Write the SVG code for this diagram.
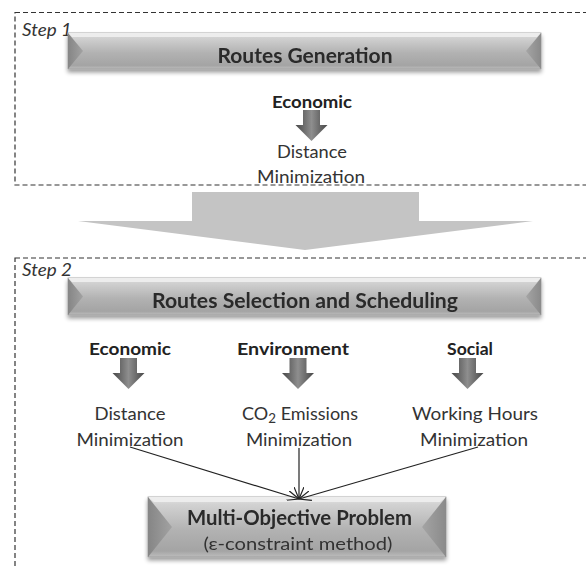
<svg xmlns="http://www.w3.org/2000/svg" width="586" height="569" viewBox="0 0 586 569">
<style>
  .frame{fill:none;stroke:#333;stroke-width:1.2;stroke-dasharray:5 3}
  .step{font-family:Lato,"Liberation Sans",Arial,sans-serif;font-style:italic;font-size:16.5px;fill:#333}
  .title{font-family:Lato,"Liberation Sans",Arial,sans-serif;font-weight:bold;font-size:20.5px;fill:#2a2a2a;text-anchor:middle}
  .lab{font-family:Lato,"Liberation Sans",Arial,sans-serif;font-weight:bold;font-size:17px;fill:#222;text-anchor:middle}
  .val{font-family:Lato,"Liberation Sans",Arial,sans-serif;font-size:17.5px;fill:#333;text-anchor:middle}
  .conn{fill:none;stroke:#222;stroke-width:1.2}
</style>
<defs>
  <linearGradient id="body" x1="0" y1="0" x2="0" y2="1">
    <stop offset="0" stop-color="#e6e6e6"/>
    <stop offset="0.12" stop-color="#d2d2d2"/>
    <stop offset="0.55" stop-color="#b2b2b2"/>
    <stop offset="0.9" stop-color="#a4a4a4"/>
    <stop offset="1" stop-color="#bdbdbd"/>
  </linearGradient>
  <linearGradient id="sideL" x1="0" y1="0" x2="1" y2="0">
    <stop offset="0" stop-color="#858585"/>
    <stop offset="1" stop-color="#a2a2a2"/>
  </linearGradient>
  <linearGradient id="sideR" x1="0" y1="0" x2="1" y2="0">
    <stop offset="0" stop-color="#a4a4a4"/>
    <stop offset="1" stop-color="#8a8a8a"/>
  </linearGradient>
  <linearGradient id="arrowG" x1="0" y1="0" x2="1" y2="0">
    <stop offset="0" stop-color="#474747"/>
    <stop offset="0.5" stop-color="#8e8e8e"/>
    <stop offset="1" stop-color="#474747"/>
  </linearGradient>
  <filter id="shadow" x="-5%" y="-20%" width="110%" height="150%">
    <feGaussianBlur in="SourceAlpha" stdDeviation="2"/>
    <feOffset dy="3" result="b"/>
    <feComponentTransfer><feFuncA type="linear" slope="0.4"/></feComponentTransfer>
    <feMerge><feMergeNode/><feMergeNode in="SourceGraphic"/></feMerge>
  </filter>
  <path id="down" d="M-8.5,0 H8.5 V15 H16 L0,31 L-16,15 H-8.5 Z" fill="url(#arrowG)"/>
  <marker id="open" viewBox="0 0 12 10" refX="12" refY="5" markerWidth="12" markerHeight="10" markerUnits="userSpaceOnUse" orient="auto">
    <path d="M0,0 L12,5 L0,10" fill="none" stroke="#222" stroke-width="1.2"/>
  </marker>
</defs>

<g id="step1">
  <rect class="frame" x="15" y="12.5" width="580" height="172.5"/>
  <text class="step" x="22" y="36" textLength="50" lengthAdjust="spacingAndGlyphs">Step 1</text>
</g>

<g id="routes-generation" filter="url(#shadow)">
  <rect x="68" y="33" width="473" height="36" fill="url(#body)" stroke="#9a9a9a" stroke-width="0.8"/>
  <polygon points="68,33 541,33 537,37 72,37" fill="#ededed"/>
  <polygon points="68,33 83,51 68,69" fill="url(#sideL)"/>
  <polygon points="541,33 526,51 541,69" fill="url(#sideR)"/>
  <text class="title" x="305" y="63" textLength="175" lengthAdjust="spacingAndGlyphs">Routes Generation</text>
</g>

<g id="economic-1">
  <text class="lab" x="312" y="108" textLength="80" lengthAdjust="spacingAndGlyphs">Economic</text>
  <use href="#down" x="311.5" y="110"/>
  <text class="val" x="312" y="158" textLength="70" lengthAdjust="spacingAndGlyphs">Distance</text>
  <text class="val" x="311" y="183" textLength="108" lengthAdjust="spacingAndGlyphs">Minimization</text>
</g>

<g id="big-arrow">
  <polygon points="192,192 419,192 419,221 533,221 305,250 78,221 192,221" fill="#c4c4c4"/>
</g>

<g id="step2">
  <rect class="frame" x="15" y="258" width="580" height="330"/>
  <text class="step" x="22" y="276" textLength="50" lengthAdjust="spacingAndGlyphs">Step 2</text>
</g>

<g id="routes-selection" filter="url(#shadow)">
  <rect x="68" y="278" width="473" height="37" fill="url(#body)" stroke="#9a9a9a" stroke-width="0.8"/>
  <polygon points="68,278 541,278 537,282 72,282" fill="#ededed"/>
  <polygon points="68,278 83,296.5 68,315" fill="url(#sideL)"/>
  <polygon points="541,278 526,296.5 541,315" fill="url(#sideR)"/>
  <text class="title" x="305" y="308" textLength="306" lengthAdjust="spacingAndGlyphs">Routes Selection and Scheduling</text>
</g>

<g id="economic-2">
  <text class="lab" x="130" y="355" textLength="82" lengthAdjust="spacingAndGlyphs">Economic</text>
  <use href="#down" x="128.5" y="358"/>
  <text class="val" x="130" y="420" textLength="71" lengthAdjust="spacingAndGlyphs">Distance</text>
  <text class="val" x="130" y="446" textLength="107" lengthAdjust="spacingAndGlyphs">Minimization</text>
</g>

<g id="environment">
  <text class="lab" x="293" y="355" textLength="112" lengthAdjust="spacingAndGlyphs">Environment</text>
  <use href="#down" x="298" y="358"/>
  <text class="val" x="300" y="420" textLength="116" lengthAdjust="spacingAndGlyphs">CO<tspan font-size="13" dy="3">2</tspan><tspan dy="-3"> Emissions</tspan></text>
  <text class="val" x="299" y="446" textLength="106" lengthAdjust="spacingAndGlyphs">Minimization</text>
</g>

<g id="social">
  <text class="lab" x="470" y="355" textLength="46" lengthAdjust="spacingAndGlyphs">Social</text>
  <use href="#down" x="467.5" y="358"/>
  <text class="val" x="475" y="420" textLength="126" lengthAdjust="spacingAndGlyphs">Working Hours</text>
  <text class="val" x="474" y="446" textLength="108" lengthAdjust="spacingAndGlyphs">Minimization</text>
</g>

<g id="multi-objective" filter="url(#shadow)">
  <rect x="148" y="497" width="298" height="60" fill="url(#body)" stroke="#9a9a9a" stroke-width="0.8"/>
  <polygon points="148,497 446,497 440,502 154,502" fill="#ededed"/>
  <polygon points="148,497 172,527 148,557" fill="url(#sideL)"/>
  <polygon points="446,497 422,527 446,557" fill="url(#sideR)"/>
  <text class="title" x="299.5" y="525" textLength="225" lengthAdjust="spacingAndGlyphs">Multi-Objective Problem</text>
  <text class="val" x="298" y="550" textLength="189" lengthAdjust="spacingAndGlyphs">(ε-constraint method)</text>
</g>

<g id="connectors">
  <line class="conn" x1="130" y1="447" x2="299" y2="499" marker-end="url(#open)"/>
  <line class="conn" x1="299" y1="448" x2="299" y2="499" marker-end="url(#open)"/>
  <line class="conn" x1="478" y1="447" x2="299" y2="499" marker-end="url(#open)"/>
</g>
</svg>
